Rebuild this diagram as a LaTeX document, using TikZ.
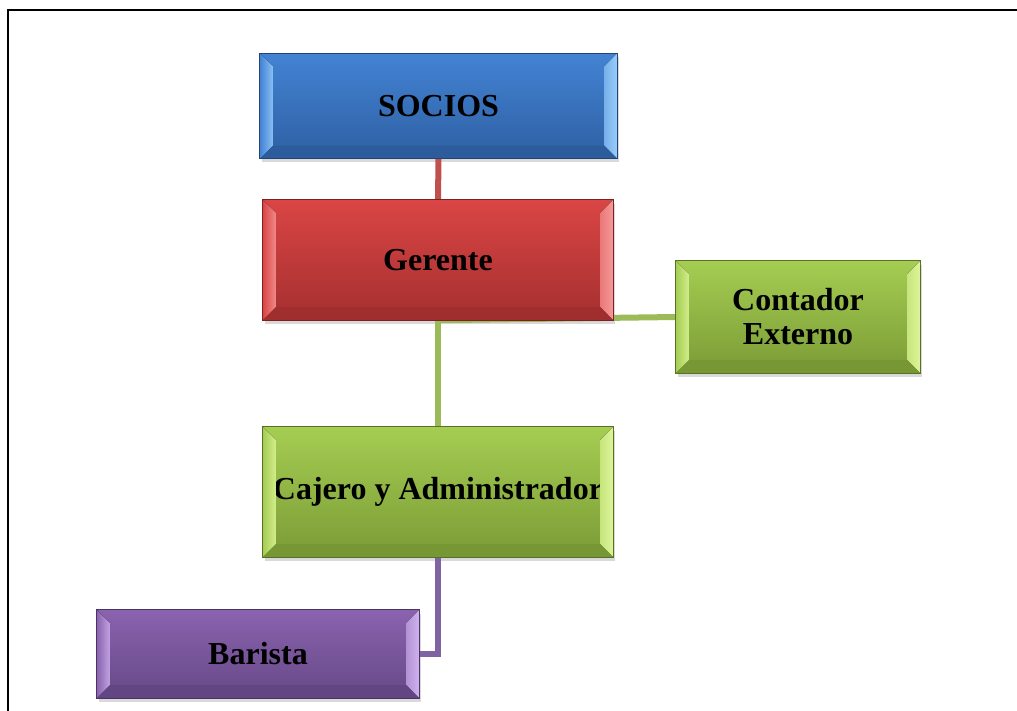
\documentclass[tikz,border=0pt]{standalone}
\usepackage{fontspec}
\setmainfont{Liberation Serif}
\usetikzlibrary{calc,shadows}

% palette
\definecolor{blueT}{HTML}{4383D3}
\definecolor{blueB}{HTML}{2E60A3}
\definecolor{blueH}{HTML}{9ACDFA}
\definecolor{blueD}{HTML}{2D5C9C}
\definecolor{redT}{HTML}{DA4545}
\definecolor{redB}{HTML}{A52F2F}
\definecolor{redH}{HTML}{F59A9A}
\definecolor{redD}{HTML}{A02E2E}
\definecolor{grnT}{HTML}{A5CD52}
\definecolor{grnB}{HTML}{7B9B36}
\definecolor{grnH}{HTML}{DDF59A}
\definecolor{grnD}{HTML}{779634}
\definecolor{purT}{HTML}{8A63AF}
\definecolor{purB}{HTML}{664886}
\definecolor{purH}{HTML}{CFB2EE}
\definecolor{purD}{HTML}{624583}
\definecolor{lnRed}{HTML}{C0504D}
\definecolor{lnGrn}{HTML}{9BBB59}
\definecolor{lnPur}{HTML}{8064A2}

% bevel around a box: #1 node, #2 face colour, #3 highlight, #4 lower rim
\newcommand\bevelrim[4]{%
  \fill[left color=#2, right color=#3!80!#2]
    (#1.north west) -- ($(#1.north west)+(13,13)$) -- ($(#1.south west)+(13,-13)$) -- (#1.south west) -- cycle;
  \fill[left color=#3!60!#2, right color=#3]
    (#1.north east) -- ($(#1.north east)+(-13,13)$) -- ($(#1.south east)+(-13,-13)$) -- (#1.south east) -- cycle;
  \fill[#4]
    (#1.south west) -- ($(#1.south west)+(13,-13)$) -- ($(#1.south east)+(-13,-13)$) -- (#1.south east) -- cycle;
  \draw[#4!75!black, line width=0.7] (#1.north west) rectangle (#1.south east);
}

\begin{document}
\begin{tikzpicture}[x=1pt, y=-1pt,
  box/.style={rectangle, inner sep=0pt, align=center, text=black,
    font=\fontsize{32}{34}\selectfont\bfseries,
    drop shadow={opacity=0.3, shadow xshift=2pt, shadow yshift=-4pt}},
  link/.style={line width=6pt}]

\useasboundingbox (0,0) rectangle (1017,711);

% page frame
\draw[line width=1.8pt] (8,711) -- (8,10) -- (1017,10);

% boxes
\node[box, top color=blueT, bottom color=blueB, minimum width=357, minimum height=105]
  (soc) at (438.5,106) {SOCIOS};
\node[box, top color=redT, bottom color=redB, minimum width=350, minimum height=120]
  (ger) at (438,260) {Gerente};
\node[box, top color=grnT, bottom color=grnB, minimum width=244, minimum height=112]
  (cont) at (798,317) {Contador\\Externo};
\node[box, top color=grnT, bottom color=grnB, minimum width=350, minimum height=130]
  (caj) at (438,492) {Cajero y Administrador};
\node[box, top color=purT, bottom color=purB, minimum width=322, minimum height=88]
  (bar) at (258,654) {Barista};

% connectors
\draw[link, lnRed] (soc.south) -- (ger.north);
\draw[link, lnGrn] (ger.south) -- (cont.west);
\draw[link, lnGrn] (ger.south) -- (caj.north);
\draw[link, lnPur] (caj.south) |- (bar.east);

% bevelled rims
\bevelrim{soc}{blueT}{blueH}{blueD}
\bevelrim{ger}{redT}{redH}{redD}
\bevelrim{cont}{grnT}{grnH}{grnD}
\bevelrim{caj}{grnT}{grnH}{grnD}
\bevelrim{bar}{purT}{purH}{purD}
\end{tikzpicture}
\end{document}
